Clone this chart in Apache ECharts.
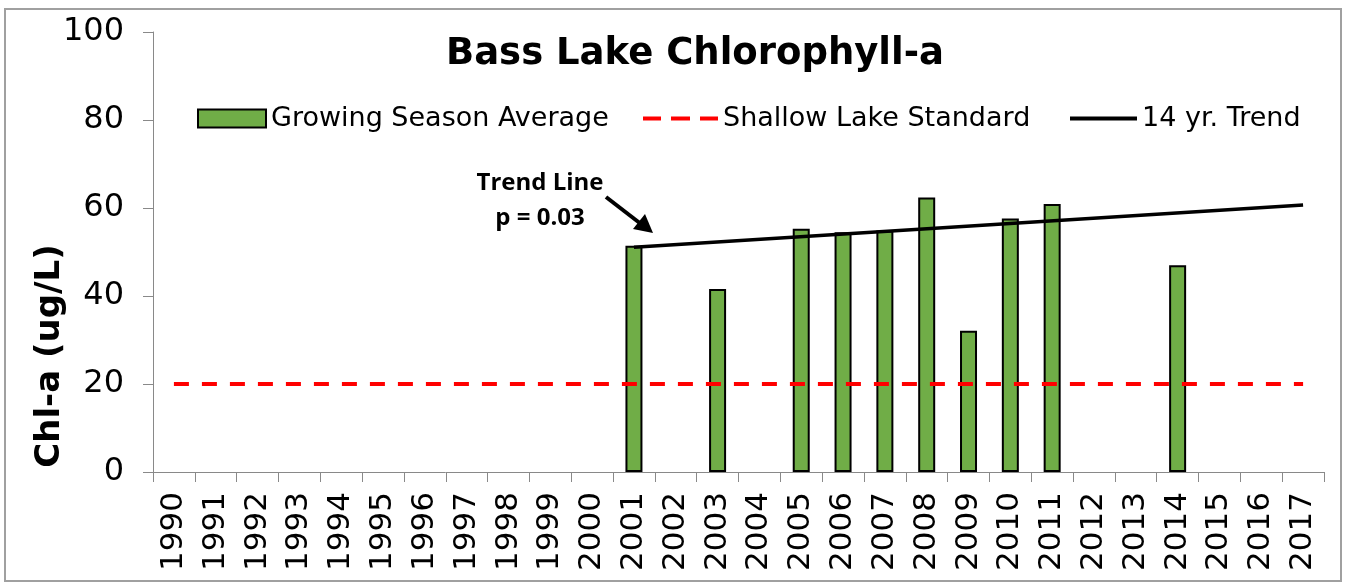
<!DOCTYPE html>
<html>
<head>
<meta charset="utf-8">
<script src="https://cdn.jsdelivr.net/npm/echarts@6/dist/echarts.min.js"></script>
<style>
  html, body { margin: 0; padding: 0; background: #fff; }
  #main { width: 1345px; height: 583px; }
</style>
</head>
<body>
<div id="main"></div>
<script>
// years on the x axis
const years = ['1990', '1991', '1992', '1993', '1994', '1995', '1996', '1997', '1998', '1999',
  '2000', '2001', '2002', '2003', '2004', '2005', '2006', '2007', '2008', '2009',
  '2010', '2011', '2012', '2013', '2014', '2015', '2016', '2017']
// growing season average chl-a (ug/L)
const chla = [null, null, null, null, null, null, null, null, null, null,
  null, 51.4, null, 41.6, null, 55.3, 54.5, 54.9, 62.4, 32.1,
  57.6, 60.9, null, null, 47.0, null, null, null]
// shallow lake standard
const standard = [20, 20, 20, 20, 20, 20, 20, 20, 20, 20,
  20, 20, 20, 20, 20, 20, 20, 20, 20, 20,
  20, 20, 20, 20, 20, 20, 20, 20]
// 14 yr trend, end points only
const trend = [null, null, null, null, null, null, null, null, null, null,
  null, 51.1, null, null, null, null, null, null, null, null,
  null, null, null, null, null, null, null, 60.7]
const yTicks = [0, 20, 40, 60, 80, 100]

const axisGray = '#898989'
const font = 'DejaVu Sans'
const legendText = { fontFamily: font, fontSize: 27, color: '#000' }

const chart = echarts.init(document.getElementById('main'))
chart.setOption({
  animation: false,
  title: {
    text: 'Bass Lake Chlorophyll-a',
    left: 690,
    top: 31,
    textAlign: 'center',
    textStyle: { fontFamily: font, fontSize: 37, fontWeight: 'bold', color: '#000' }
  },
  legend: [
    {
      data: [{ name: 'Growing Season Average', icon: 'rect' }],
      left: 197, top: 105, padding: 0,
      itemWidth: 68, itemHeight: 18,
      textStyle: legendText
    },
    {
      // dashed red icon
      data: [{ name: 'Shallow Lake Standard', icon: 'path://M0,0h18v4h-18z M28,0h19v4h-19z M57,0h18v4h-18z' }],
      left: 643, top: 105, padding: 0,
      itemWidth: 75, itemHeight: 4,
      textStyle: legendText
    },
    {
      data: [{ name: '14 yr. Trend', icon: 'path://M0,0h67v4h-67z' }],
      left: 1070, top: 105, padding: 0,
      itemWidth: 67, itemHeight: 4,
      textStyle: legendText
    }
  ],
  grid: { left: 153, right: 21, top: 32, bottom: 111 },
  xAxis: {
    type: 'category',
    data: years,
    axisLine: { lineStyle: { color: axisGray, width: 1 } },
    axisTick: { show: true, length: 10, lineStyle: { color: axisGray } },
    axisLabel: { rotate: 90, fontFamily: font, fontSize: 31, color: '#000', margin: 20, interval: 0 },
    splitLine: { show: false }
  },
  yAxis: {
    type: 'value',
    min: yTicks[0],
    max: yTicks[yTicks.length - 1],
    interval: 20,
    axisLine: { show: true, lineStyle: { color: axisGray, width: 1 } },
    axisTick: { show: true, length: 10, lineStyle: { color: axisGray } },
    axisLabel: { fontFamily: font, fontSize: 32, color: '#000', margin: 29 },
    splitLine: { show: false }
  },
  series: [
    {
      name: 'Growing Season Average',
      type: 'bar',
      data: chla,
      barWidth: 17,
      itemStyle: { color: '#70AD47', borderColor: '#000', borderWidth: 2 }
    },
    {
      name: 'Shallow Lake Standard',
      type: 'line',
      data: standard,
      symbol: 'none',
      lineStyle: { color: '#FF0000', width: 4, type: [15, 13] },
      itemStyle: { color: '#FF0000' }
    },
    {
      name: '14 yr. Trend',
      type: 'line',
      data: trend,
      connectNulls: true,
      symbol: 'none',
      lineStyle: { color: '#000', width: 3.5 },
      itemStyle: { color: '#000' }
    }
  ],
  graphic: [
    {
      type: 'rect',
      shape: { x: 5, y: 9, width: 1336, height: 572 },
      style: { fill: null, stroke: '#a0a0a0', lineWidth: 2 },
      silent: true
    },
    {
      type: 'text',
      x: 50, y: 356,
      rotation: Math.PI / 2,
      style: {
        text: 'Chl-a (ug/L)',
        fontFamily: font, fontSize: 34, fontWeight: 'bold', fill: '#000',
        align: 'center', verticalAlign: 'middle'
      }
    },
    {
      type: 'text',
      x: 540, y: 166,
      style: {
        text: 'Trend Line\np = 0.03',
        fontFamily: 'Open Sans', fontSize: 24, fontWeight: 'bold', fill: '#000',
        align: 'center', lineHeight: 35
      }
    },
    {
      type: 'line',
      shape: { x1: 606, y1: 197, x2: 641, y2: 224 },
      style: { stroke: '#000', lineWidth: 4 }
    },
    {
      type: 'polygon',
      shape: { points: [[653, 233], [633, 229], [645, 214]] },
      style: { fill: '#000' }
    }
  ]
})
</script>
</body>
</html>
